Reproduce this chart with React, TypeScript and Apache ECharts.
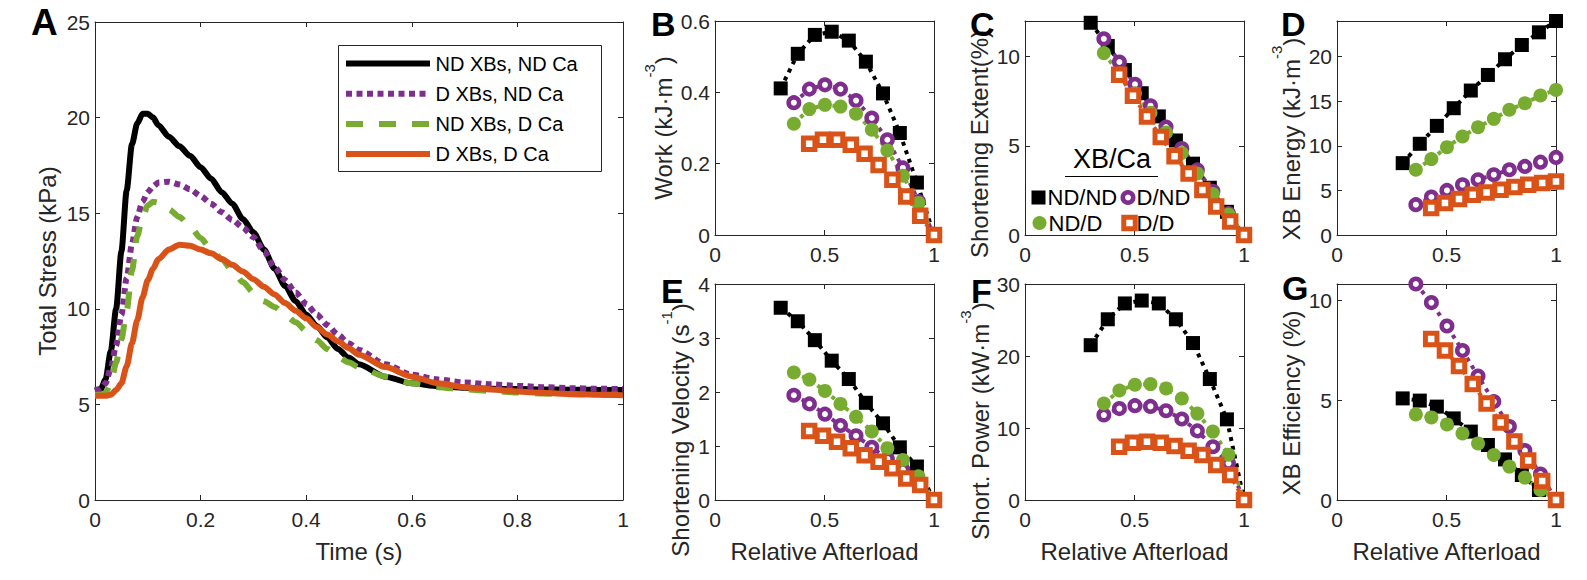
import { useEffect, useRef } from "react";
import * as echarts from "echarts";

const FONT = "'Liberation Sans', Arial, Helvetica, sans-serif";
const INK = "#262626";
const BLACK = "#000000";
const PURPLE = "#7E2F8E";
const GREEN = "#77AC30";
const ORANGE = "#D95319";

// ---- Panel A: total stress transients ----
const time = [
  0, 0.01, 0.02, 0.03, 0.04, 0.05, 0.06, 0.07, 0.08, 0.09, 0.1, 0.11, 0.12, 0.14,
  0.16, 0.18, 0.2, 0.22, 0.24, 0.26, 0.28, 0.3, 0.32, 0.34, 0.36, 0.38, 0.4, 0.42,
  0.44, 0.46, 0.48, 0.5, 0.55, 0.6, 0.65, 0.7, 0.75, 0.8, 0.85, 0.9, 0.95, 1,
];
const stressNdXbNdCa = [
  5.7, 5.75, 6.3, 7.8, 10.0, 13.0, 16.2, 18.6, 19.7, 20.2, 20.2, 20.0, 19.6, 19.0,
  18.5, 18.0, 17.4, 16.8, 16.1, 15.5, 14.7, 14.0, 13.1, 12.1, 11.2, 10.4, 9.7, 9.1,
  8.5, 7.9, 7.45, 7.1, 6.45, 6.1, 5.95, 5.87, 5.82, 5.8, 5.78, 5.77, 5.76, 5.75,
];
const stressDXbNdCa = [
  5.75, 5.8, 6.1, 6.9, 8.1, 9.7, 11.6, 13.4, 14.8, 15.6, 16.1, 16.4, 16.6, 16.65,
  16.5, 16.25, 15.9, 15.5, 15.05, 14.65, 14.25, 13.75, 13.0, 12.2, 11.5, 10.85, 10.25, 9.7,
  9.15, 8.65, 8.2, 7.85, 7.1, 6.55, 6.3, 6.15, 6.05, 5.97, 5.9, 5.85, 5.82, 5.8,
];
const stressNdXbDCa = [
  5.5, 5.5, 5.6, 6.1, 7.2, 8.4, 9.9, 12.0, 13.8, 14.8, 15.4, 15.6, 15.55, 15.2,
  14.8, 14.3, 13.7, 13.1, 12.6, 12.0, 11.4, 10.85, 10.4, 10.1, 9.7, 9.3, 8.85, 8.35,
  7.9, 7.5, 7.2, 6.95, 6.45, 6.1, 5.9, 5.78, 5.7, 5.62, 5.57, 5.53, 5.5, 5.5,
];
const stressDXbDCa = [
  5.45, 5.45, 5.45, 5.5, 5.75, 6.1, 7.0, 8.2, 9.4, 10.6, 11.5, 12.1, 12.6, 13.1,
  13.35, 13.3, 13.1, 12.9, 12.6, 12.3, 11.95, 11.55, 11.15, 10.75, 10.3, 9.9, 9.5, 9.05,
  8.65, 8.3, 7.95, 7.6, 6.95, 6.45, 6.1, 5.9, 5.78, 5.68, 5.6, 5.55, 5.5, 5.48,
];
const legendLabels = ["ND XBs, ND Ca", "D XBs, ND Ca", "ND XBs, D Ca", "D XBs, D Ca"];

// ---- Panels B-G: afterload sweeps (XB/Ca: ND/ND, D/ND, ND/D, D/D) ----
const afterloadNdNd = [0.3, 0.378, 0.456, 0.533, 0.611, 0.689, 0.767, 0.844, 0.922, 1];
const afterloadDNd = [0.36, 0.431, 0.502, 0.573, 0.644, 0.716, 0.787, 0.858, 0.929, 1];
const afterloadNdD = [0.36, 0.431, 0.502, 0.573, 0.644, 0.716, 0.787, 0.858, 0.929, 1];
const afterloadDD = [0.43, 0.493, 0.557, 0.62, 0.683, 0.747, 0.81, 0.873, 0.937, 1];

const workNdNd = [0.411, 0.508, 0.561, 0.57, 0.545, 0.486, 0.397, 0.286, 0.147, 0];
const workDNd = [0.371, 0.409, 0.421, 0.409, 0.377, 0.328, 0.267, 0.188, 0.094, 0];
const workNdD = [0.312, 0.353, 0.365, 0.36, 0.34, 0.295, 0.237, 0.166, 0.09, 0];
const workDD = [0.256, 0.267, 0.267, 0.253, 0.228, 0.196, 0.155, 0.108, 0.054, 0];

const extentNdNd = [11.9, 10.6, 9.25, 7.95, 6.65, 5.3, 4.0, 2.65, 1.3, 0];
const extentDNd = [11.0, 9.7, 8.45, 7.25, 6.05, 4.85, 3.65, 2.45, 1.2, 0];
const extentNdD = [10.2, 9.05, 7.95, 6.85, 5.75, 4.6, 3.45, 2.3, 1.15, 0];
const extentDD = [8.98, 7.81, 6.64, 5.49, 4.42, 3.45, 2.52, 1.6, 0.76, 0];

const energyNdNd = [8.06, 10.23, 12.24, 14.22, 16.2, 17.95, 19.71, 21.31, 22.73, 24.0];
const energyDNd = [3.4, 4.26, 5.0, 5.64, 6.2, 6.76, 7.32, 7.69, 8.17, 8.7];
const energyNdD = [7.32, 8.51, 9.85, 11.05, 12.09, 13.03, 14.04, 14.78, 15.64, 16.27];
const energyDD = [3.02, 3.58, 4.03, 4.52, 4.78, 5.08, 5.38, 5.64, 5.82, 6.01];

const velocityNdNd = [3.56, 3.31, 2.96, 2.58, 2.24, 1.8, 1.42, 0.975, 0.62, 0];
const velocityDNd = [1.94, 1.78, 1.59, 1.38, 1.19, 0.975, 0.76, 0.56, 0.34, 0];
const velocityNdD = [2.36, 2.23, 2.02, 1.78, 1.54, 1.27, 0.96, 0.74, 0.44, 0];
const velocityDD = [1.28, 1.19, 1.08, 0.96, 0.83, 0.71, 0.59, 0.4, 0.28, 0];

const powerNdNd = [21.5, 25.1, 27.3, 27.7, 27.3, 25.1, 21.8, 16.8, 11.2, 0];
const powerDNd = [11.8, 12.7, 13.1, 13.0, 12.4, 11.25, 9.6, 7.4, 5.1, 0];
const powerNdD = [13.4, 15.2, 16.0, 16.1, 15.5, 14.1, 12.0, 9.5, 6.3, 0];
const powerDD = [7.4, 7.96, 8.1, 7.96, 7.5, 6.85, 6.25, 4.86, 3.47, 0];

const efficiencyNdNd = [5.08, 4.97, 4.67, 4.08, 3.42, 2.75, 2.03, 1.25, 0.5, 0];
const efficiencyDNd = [10.8, 9.87, 8.7, 7.47, 6.2, 4.92, 3.67, 2.47, 1.3, 0];
const efficiencyNdD = [4.28, 4.13, 3.78, 3.33, 2.83, 2.25, 1.67, 1.12, 0.5, 0];
const efficiencyDD = [8.05, 7.47, 6.7, 5.8, 4.83, 3.88, 2.92, 1.97, 0.95, 0];

const comboLabels = ["ND/ND", "D/ND", "ND/D", "D/D"];

// ---- layout ----
const gridRects = [
  { left: 95, top: 22, width: 528, height: 478 },
  { left: 715, top: 21, width: 219, height: 214 },
  { left: 1025, top: 21, width: 219, height: 214 },
  { left: 1337, top: 21, width: 219, height: 214 },
  { left: 715, top: 284, width: 219, height: 216 },
  { left: 1025, top: 284, width: 219, height: 216 },
  { left: 1337, top: 284, width: 219, height: 216 },
];

type Panel = {
  letter: string;
  letterX: number;
  letterY: number;
  yMax: number;
  yStep: number;
  title: string;
  titleX: number;
  titleY: number;
  values: number[][];
  xTitle: boolean;
};

const panels: Panel[] = [
  { letter: "B", letterX: 651, letterY: 24, yMax: 0.6, yStep: 0.2, title: "{m|Work (kJ·m}{s|-3}{m|)}", titleX: 665.5, titleY: 128, values: [workNdNd, workDNd, workNdD, workDD], xTitle: false },
  { letter: "C", letterX: 970, letterY: 24, yMax: 12, yStep: 5, title: "{m|Shortening Extent(%)}", titleX: 981, titleY: 144, values: [extentNdNd, extentDNd, extentNdD, extentDD], xTitle: false },
  { letter: "D", letterX: 1281, letterY: 23.5, yMax: 24, yStep: 5, title: "{m|XB Energy (kJ·m}{s|-3}{m|)}", titleX: 1293, titleY: 139, values: [energyNdNd, energyDNd, energyNdD, energyDD], xTitle: false },
  { letter: "E", letterX: 661, letterY: 291, yMax: 4, yStep: 1, title: "{m|Shortening Velocity (s}{s|-1}{m|)}", titleX: 682.5, titleY: 430, values: [velocityNdNd, velocityDNd, velocityNdD, velocityDD], xTitle: true },
  { letter: "F", letterX: 971, letterY: 291, yMax: 30, yStep: 10, title: "{m|Short. Power (kW·m}{s|-3}{m|)}", titleX: 982, titleY: 421, values: [powerNdNd, powerDNd, powerNdD, powerDD], xTitle: true },
  { letter: "G", letterX: 1282, letterY: 288, yMax: 10.8, yStep: 5, title: "{m|XB Efficiency (%)}", titleX: 1293, titleY: 403, values: [efficiencyNdNd, efficiencyDNd, efficiencyNdD, efficiencyDD], xTitle: true },
];

const afterloads = [afterloadNdNd, afterloadDNd, afterloadNdD, afterloadDD];

const markerStyles = [
  { symbol: "rect", size: 14, item: { color: BLACK }, line: BLACK },
  { symbol: "circle", size: 10.5, item: { color: "#ffffff", borderColor: PURPLE, borderWidth: 4.5 }, line: PURPLE },
  { symbol: "circle", size: 14, item: { color: GREEN }, line: GREEN },
  { symbol: "rect", size: 11.5, item: { color: "#ffffff", borderColor: ORANGE, borderWidth: 5 }, line: ORANGE },
];

function tickFormatter(step: number) {
  return (v: number) => {
    const k = v / step;
    if (Math.abs(k - Math.round(k)) > 1e-6) return "";
    return String(parseFloat(v.toFixed(6)));
  };
}

function axes(dim: "x" | "y", gridIndex: number, max: number, step: number) {
  const base = {
    type: "value",
    gridIndex,
    min: 0,
    max,
    interval: step,
    axisLine: { show: true, onZero: false, lineStyle: { color: INK, width: 1 } },
    axisTick: { show: true, inside: true, length: 5, lineStyle: { color: INK, width: 1 } },
    splitLine: { show: false },
    axisPointer: { show: false },
  };
  return [
    {
      ...base,
      position: dim === "x" ? "bottom" : "left",
      axisLabel: {
        show: true,
        formatter: tickFormatter(step),
        color: INK,
        fontSize: 21,
        fontFamily: FONT,
        margin: dim === "x" ? 9 : 5,
        showMinLabel: true,
        showMaxLabel: true,
      },
    },
    { ...base, position: dim === "x" ? "top" : "right", axisLabel: { show: false } },
  ];
}

const titleRich = {
  m: { fontSize: 24, fontFamily: FONT, fill: INK, lineHeight: 34, verticalAlign: "bottom" },
  s: { fontSize: 15, fontFamily: FONT, fill: INK, lineHeight: 15, verticalAlign: "top" },
};

function verticalTitle(text: string, cx: number, cy: number) {
  return {
    type: "text",
    x: cx - 7,
    y: cy,
    rotation: Math.PI / 2,
    z: 50,
    style: { text, align: "center", verticalAlign: "middle", rich: titleRich, fill: INK, fontFamily: FONT, fontSize: 24 },
  };
}

function plainText(text: string, x: number, y: number, size: number, align: string, opts: any = {}) {
  return {
    type: "text",
    x,
    y,
    z: 60,
    style: {
      text,
      fontSize: size,
      fontFamily: FONT,
      fontWeight: opts.bold ? "bold" : "normal",
      fill: opts.fill || INK,
      align,
      verticalAlign: "middle",
    },
  };
}

function buildOption() {
  const xAxis: any[] = [];
  const yAxis: any[] = [];
  xAxis.push(...axes("x", 0, 1, 0.2));
  yAxis.push(...axes("y", 0, 25, 5));
  panels.forEach((p, i) => {
    xAxis.push(...axes("x", i + 1, 1, 0.5));
    yAxis.push(...axes("y", i + 1, p.yMax, p.yStep));
  });

  const stressSets = [stressNdXbNdCa, stressDXbNdCa, stressNdXbDCa, stressDXbDCa];
  const stressColors = [BLACK, PURPLE, GREEN, ORANGE];
  const stressDash: any[] = ["solid", [6, 4.5], [17, 16], "solid"];

  const series: any[] = stressSets.map((vals, k) => ({
    type: "line",
    name: legendLabels[k],
    xAxisIndex: 0,
    yAxisIndex: 0,
    data: time.map((t, i) => [t, vals[i]]),
    symbol: "none",
    smooth: 0.25,
    smoothMonotone: "x",
    clip: false,
    silent: true,
    lineStyle: { color: stressColors[k], width: 6, type: stressDash[k], cap: "butt" },
  }));

  panels.forEach((p, i) => {
    p.values.forEach((vals, k) => {
      const m = markerStyles[k];
      series.push({
        type: "line",
        name: `${p.letter} ${comboLabels[k]}`,
        xAxisIndex: (i + 1) * 2,
        yAxisIndex: (i + 1) * 2,
        data: afterloads[k].map((x, j) => [x, vals[j]]),
        symbol: m.symbol,
        symbolSize: m.size,
        itemStyle: m.item,
        lineStyle: { color: m.line, width: 4, type: [4, 5] },
        clip: false,
        silent: true,
      });
    });
  });

  const graphic: any[] = [];
  // panel letters
  graphic.push(plainText("A", 31, 22, 37, "left", { bold: true, fill: BLACK }));
  panels.forEach((p) => graphic.push(plainText(p.letter, p.letterX, p.letterY, 34, "left", { bold: true, fill: BLACK })));

  // axis titles
  graphic.push(verticalTitle("{m|Total Stress (kPa)}", 49.6, 261));
  panels.forEach((p) => graphic.push(verticalTitle(p.title, p.titleX, p.titleY)));
  graphic.push(plainText("Time (s)", 359, 551, 24, "center"));
  panels.forEach((p, i) => {
    if (!p.xTitle) return;
    const g = gridRects[i + 1];
    graphic.push(plainText("Relative Afterload", g.left + g.width / 2, 551, 24, "center"));
  });

  // legend of panel A
  graphic.push({
    type: "rect",
    z: 55,
    shape: { x: 338.5, y: 45.5, width: 263, height: 126 },
    style: { fill: "#ffffff", stroke: INK, lineWidth: 1 },
  });
  const rows = [63.5, 93.7, 123.9, 154];
  rows.forEach((ry, k) => {
    const dash = stressDash[k];
    graphic.push({
      type: "line",
      z: 58,
      shape: { x1: 346, y1: ry, x2: 430, y2: ry },
      style: { stroke: stressColors[k], lineWidth: 6, lineDash: Array.isArray(dash) ? dash : null, lineCap: "butt" },
    });
    graphic.push(plainText(legendLabels[k], 435.5, ry, 20, "left", { fill: BLACK }));
  });

  // legend of panel C
  graphic.push(plainText("XB/Ca", 1112, 159, 27, "center", { fill: BLACK }));
  graphic.push({
    type: "line",
    z: 58,
    shape: { x1: 1065, y1: 176.5, x2: 1158, y2: 176.5 },
    style: { stroke: BLACK, lineWidth: 1 },
  });
  graphic.push({ type: "rect", z: 58, shape: { x: 1031.5, y: 190.5, width: 14, height: 14 }, style: { fill: BLACK } });
  graphic.push(plainText(comboLabels[0], 1047.5, 197.5, 22, "left", { fill: BLACK }));
  graphic.push({ type: "circle", z: 58, shape: { cx: 1128, cy: 197.5, r: 5.25 }, style: { fill: "#ffffff", stroke: PURPLE, lineWidth: 4.5 } });
  graphic.push(plainText(comboLabels[1], 1136.5, 197.5, 22, "left", { fill: BLACK }));
  graphic.push({ type: "circle", z: 58, shape: { cx: 1039.5, cy: 223, r: 7 }, style: { fill: GREEN } });
  graphic.push(plainText(comboLabels[2], 1048.5, 223, 22, "left", { fill: BLACK }));
  graphic.push({ type: "rect", z: 58, shape: { x: 1123.75, y: 217.25, width: 11.5, height: 11.5 }, style: { fill: "#ffffff", stroke: ORANGE, lineWidth: 5 } });
  graphic.push(plainText(comboLabels[3], 1136.5, 223, 22, "left", { fill: BLACK }));

  return {
    animation: false,
    backgroundColor: "#ffffff",
    textStyle: { fontFamily: FONT },
    grid: gridRects.map((r) => ({ ...r, containLabel: false, outerBoundsMode: "none", show: false })),
    xAxis,
    yAxis,
    series,
    graphic,
  };
}

export default function App() {
  const ref = useRef<HTMLDivElement>(null);

  useEffect(() => {
    document.body.style.margin = "0";
    if (!ref.current) return;
    const chart = echarts.init(ref.current, undefined, { renderer: "svg" });
    chart.setOption(buildOption() as any);
    return () => chart.dispose();
  }, []);

  return <div ref={ref} style={{ width: 1587, height: 580, background: "#ffffff" }} />;
}
